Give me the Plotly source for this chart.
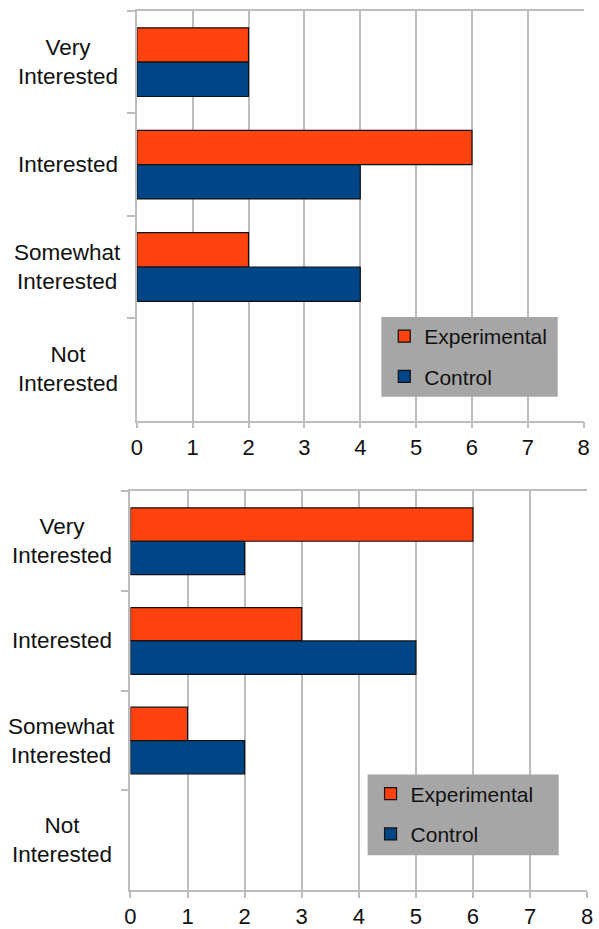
import plotly.graph_objects as go

# Survey responses: interest level per group, two survey rounds
categories = ["Very Interested", "Interested", "Somewhat Interested", "Not Interested"]
category_labels = ["Very<br>Interested", "Interested", "Somewhat<br>Interested", "Not<br>Interested"]

round1_experimental = [2, 6, 2, 0]
round1_control = [2, 4, 4, 0]

round2_experimental = [6, 3, 1, 0]
round2_control = [2, 5, 2, 0]

x_ticks = [0, 1, 2, 3, 4, 5, 6, 7, 8]

ORANGE = "#FF420E"
BLUE = "#004586"
GRID = "#BDBDBD"
LEGEND_BG = "#A6A6A6"
FONT = "Liberation Sans, Arial, sans-serif"

W, H = 599, 929


def px_x(p):
    return p / W


def px_y(p):
    return 1 - p / H


def outline_widths(values):
    # no outline on empty bars so nothing is drawn for a zero count
    return [1.2 if v else 0 for v in values]


fig = go.Figure()

panels = [
    dict(exp=round1_experimental, ctl=round1_control, xa="x", ya="y", legend="legend",
         xdom=(133.5, 589.5), ydom=(422, 11), label_x=63,
         box=(383, 318, 563, 398)),
    dict(exp=round2_experimental, ctl=round2_control, xa="x2", ya="y2", legend="legend2",
         xdom=(127, 593), ydom=(893, 493), label_x=57,
         box=(369, 777, 564, 858)),
]

for i, p in enumerate(panels):
    fig.add_trace(go.Bar(
        y=categories, x=p["exp"], orientation="h", name="Experimental",
        marker=dict(color=ORANGE, line=dict(color="#111111", width=outline_widths(p["exp"]))),
        xaxis=p["xa"], yaxis=p["ya"], legend=p["legend"], legendgroup=f"e{i}",
        hoverinfo="skip",
    ))
    fig.add_trace(go.Bar(
        y=categories, x=p["ctl"], orientation="h", name="Control",
        marker=dict(color=BLUE, line=dict(color="#111111", width=outline_widths(p["ctl"]))),
        xaxis=p["xa"], yaxis=p["ya"], legend=p["legend"], legendgroup=f"c{i}",
        hoverinfo="skip",
    ))

layout = dict(
    width=W, height=H,
    margin=dict(l=0, r=0, t=0, b=0),
    paper_bgcolor="white", plot_bgcolor="white",
    barmode="group", bargap=0.33, bargroupgap=0,
    font=dict(family=FONT, size=22, color="#111111"),
    showlegend=True,
)

shapes = []
annotations = []
for i, p in enumerate(panels):
    sfx = "" if i == 0 else str(i + 1)
    layout["xaxis" + sfx] = dict(
        domain=[px_x(p["xdom"][0]), px_x(p["xdom"][1])],
        anchor="y" + sfx,
        range=[0, 8], tickvals=x_ticks, ticktext=[str(t) for t in x_ticks],
        showgrid=True, gridcolor=GRID, gridwidth=1.5,
        showline=True, linecolor=GRID, linewidth=1.5, mirror=True,
        ticks="outside", ticklen=6, tickcolor=GRID, tickwidth=1.5,
        tickfont=dict(size=22, color="#111111"),
        zeroline=False, fixedrange=True,
    )
    layout["yaxis" + sfx] = dict(
        domain=[px_y(p["ydom"][0]), px_y(p["ydom"][1])],
        anchor="x" + sfx,
        type="category", categoryorder="array", categoryarray=categories,
        autorange="reversed",
        showgrid=False, showticklabels=False,
        showline=True, linecolor=GRID, linewidth=1.5,
        ticks="outside", ticklen=8, tickcolor=GRID, tickwidth=1.5,
        tickson="boundaries",
        zeroline=False, fixedrange=True,
    )
    for cat, lab in zip(categories, category_labels):
        annotations.append(dict(
            x=px_x(p["label_x"]), xref="paper", xanchor="center",
            y=cat, yref="y" + sfx, yanchor="middle",
            text=lab, showarrow=False, align="center",
            font=dict(size=22.5, color="#111111", family=FONT),
        ))
    x0, y0, x1, y1 = p["box"]
    shapes.append(dict(
        type="rect", xref="paper", yref="paper",
        x0=px_x(x0), x1=px_x(x1), y0=px_y(y1), y1=px_y(y0),
        fillcolor=LEGEND_BG, line=dict(width=0), layer="above",
    ))
    layout["legend" + sfx] = dict(
        x=px_x(x0 + 3), y=px_y(y0 - 1), xanchor="left", yanchor="top",
        xref="paper", yref="paper",
        bgcolor="rgba(0,0,0,0)", borderwidth=0,
        font=dict(size=21, color="#111111", family=FONT),
        tracegroupgap=10, itemwidth=30,
        traceorder="grouped",
    )

layout["shapes"] = shapes
layout["annotations"] = annotations
fig.update_layout(**layout)

fig.write_html("out.html")
